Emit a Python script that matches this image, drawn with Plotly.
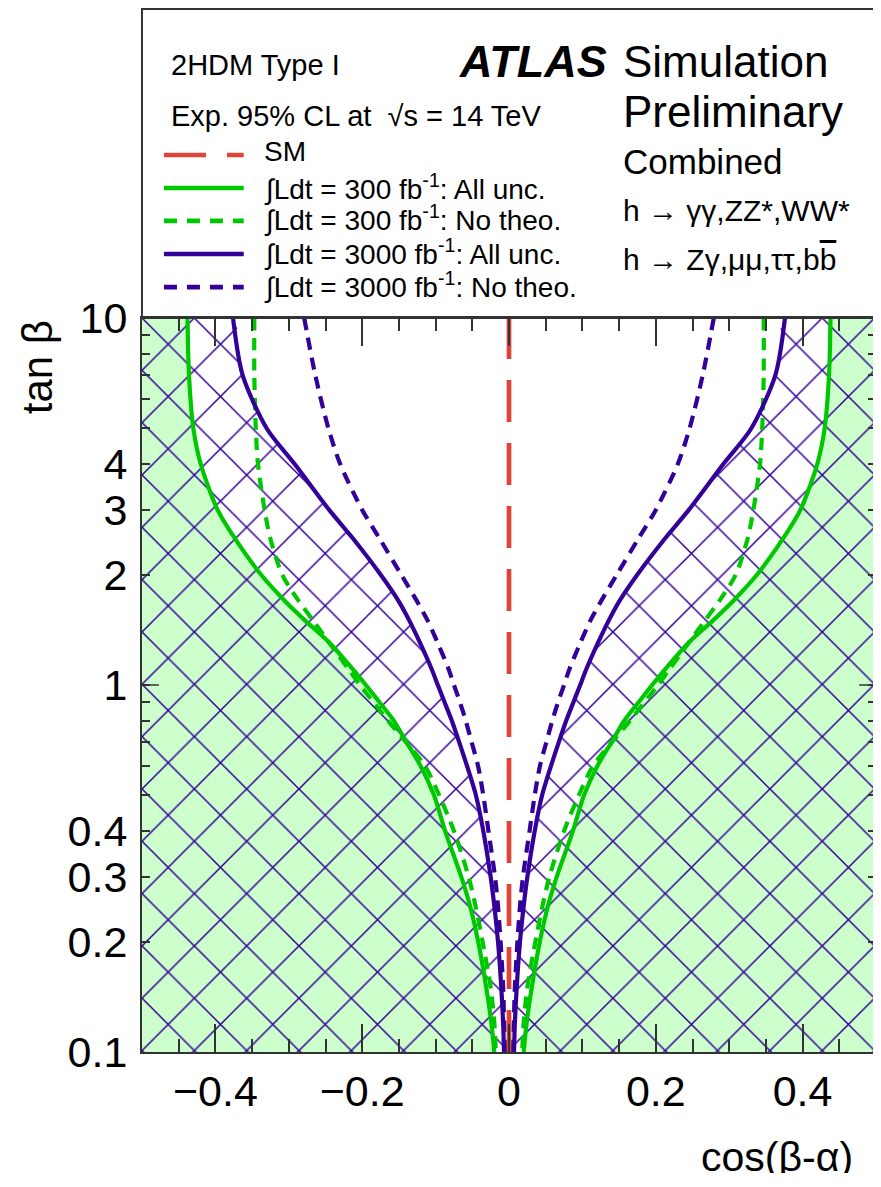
import plotly.graph_objects as go

# ---------------- data ----------------
tan_beta = [10, 7, 5, 4, 3, 2.5, 2, 1.7, 1.5, 1.3, 1.1, 1.0, 0.9, 0.8, 0.7,
            0.6, 0.5, 0.4, 0.3, 0.25, 0.2, 0.15, 0.12, 0.1]
# |cos(beta-alpha)| of each expected 95% CL contour (mirrored to both signs)
cba_300_all = [0.438, 0.436, 0.430, 0.420, 0.397, 0.373, 0.338, 0.306, 0.278,
               0.244, 0.212, 0.195, 0.177, 0.157, 0.140, 0.120, 0.102, 0.087,
               0.065, 0.053, 0.042, 0.031, 0.024, 0.020]
cba_300_notheo = [0.347, 0.347, 0.345, 0.342, 0.333, 0.325, 0.309, 0.287, 0.267,
                  0.2445, 0.218, 0.203, 0.185, 0.165, 0.1405, 0.114, 0.095, 0.075,
                  0.055, 0.0456, 0.036, 0.025, 0.020, 0.018]
cba_3000_all = [0.376, 0.363, 0.330, 0.292, 0.245, 0.212, 0.175, 0.151, 0.136,
                0.121, 0.105, 0.097, 0.088, 0.078, 0.068, 0.057, 0.045, 0.035,
                0.025, 0.020, 0.015, 0.0105, 0.008, 0.0068]
cba_3000_notheo = [0.279, 0.264, 0.246, 0.230, 0.200, 0.176, 0.147, 0.126, 0.111,
                   0.097, 0.082, 0.075, 0.067, 0.059, 0.051, 0.042, 0.035, 0.028,
                   0.019, 0.015, 0.0115, 0.008, 0.0066, 0.0054]
sm_x = [0, 0]
sm_y = [0.1, 10]

x_range = [-0.5, 0.5]
y_range = [0.1, 10]
x_tickvals = [-0.4, -0.2, 0, 0.2, 0.4]
x_ticktext = ["\u22120.4", "\u22120.2", "0", "0.2", "0.4"]
y_tickvals = [0.1, 0.2, 0.3, 0.4, 1, 2, 3, 4, 10]
y_ticktext = ["0.1", "0.2", "0.3", "0.4", "1", "2", "3", "4", "10"]
y_minorvals = [0.5, 0.6, 0.7, 0.8, 0.9, 5, 6, 7, 8, 9]

legend_labels = [
    "SM",
    "\u222bLdt = 300 fb<sup>-1</sup>: All unc.",
    "\u222bLdt = 300 fb<sup>-1</sup>: No theo.",
    "\u222bLdt = 3000 fb<sup>-1</sup>: All unc.",
    "\u222bLdt = 3000 fb<sup>-1</sup>: No theo.",
]

# ---------------- styles ----------------
GREEN = "#00c800"
PURPLE = "#330099"
RED = "#de4438"
LIGHTGREEN = "#ccffcc"
FRAME = "#333333"
FONT = "Liberation Sans, Arial, sans-serif"
LW = 4.2

fig = go.Figure()


def neg(vals):
    return [-v for v in vals]


# green filled excluded region (outside 300 fb-1 all-unc contour)
for side in (-1, 1):
    xs = [side * x_range[1]] + [side * v for v in cba_300_all] + [side * x_range[1]]
    ys = [y_range[1]] + tan_beta + [y_range[0]]
    fig.add_trace(go.Scatter(x=xs, y=ys, mode="lines", fill="toself",
                             fillcolor=LIGHTGREEN, line=dict(width=0, color="rgba(0,0,0,0)", shape="spline", smoothing=0.6),
                             hoverinfo="skip", showlegend=False))

# hatched excluded region (outside 3000 fb-1 all-unc contour)
for side in (-1, 1):
    xs = [side * x_range[1]] + [side * v for v in cba_3000_all] + [side * x_range[1]]
    ys = [y_range[1]] + tan_beta + [y_range[0]]
    fig.add_trace(go.Scatter(x=xs, y=ys, mode="lines", fill="toself",
                             fillcolor="rgba(0,0,0,0)",
                             fillpattern=dict(shape="x", size=37, solidity=0.08,
                                              fgcolor=PURPLE, bgcolor="rgba(0,0,0,0)",
                                              fillmode="replace"),
                             line=dict(width=0, color="rgba(0,0,0,0)", shape="spline", smoothing=0.6),
                             hoverinfo="skip", showlegend=False))

curves = [
    (cba_300_all, GREEN, "solid"),
    (cba_300_notheo, GREEN, "12px,8px"),
    (cba_3000_all, PURPLE, "solid"),
    (cba_3000_notheo, PURPLE, "12px,8px"),
]
for vals, col, dash in curves:
    for xs in (neg(vals), vals):
        fig.add_trace(go.Scatter(x=xs, y=tan_beta, mode="lines",
                                 line=dict(color=col, width=LW, dash=dash, shape="spline", smoothing=0.8),
                                 hoverinfo="skip", showlegend=False))

# SM line
fig.add_trace(go.Scatter(x=sm_x, y=sm_y, mode="lines",
                         line=dict(color=RED, width=LW + 0.5, dash="42px,21px"),
                         hoverinfo="skip", showlegend=False))

axis_common = dict(showgrid=False, zeroline=False, showline=True, linecolor=FRAME,
                   linewidth=2, mirror="ticks", ticks="inside", tickcolor=FRAME,
                   tickwidth=1.5, tickfont=dict(family=FONT, size=43, color="black"))

fig.update_xaxes(range=x_range, tickmode="array", tickvals=x_tickvals, ticktext=x_ticktext,
                 ticklen=28, ticklabelstandoff=0,
                 minor=dict(tickvals=[round(-0.5 + 0.05 * i, 2) for i in range(21)],
                            ticks="inside", ticklen=13, tickcolor=FRAME, tickwidth=1.5),
                 **axis_common)
fig.update_yaxes(type="log", range=[-1, 1], tickmode="array", tickvals=y_tickvals,
                 ticktext=y_ticktext, ticklen=8, ticklabelstandoff=4,
                 minor=dict(tickvals=y_minorvals, ticks="inside", ticklen=8,
                            tickcolor=FRAME, tickwidth=1.5),
                 **axis_common)

shapes = []
# longer decade tick at tan(beta)=1 on left and right frame
for x0, x1 in ((0, 0.023), (1, 0.977)):
    shapes.append(dict(type="line", xref="x domain", yref="y", x0=x0, x1=x1, y0=1, y1=1,
                       line=dict(color=FRAME, width=1.5)))
# legend / label box above the plot
shapes.append(dict(type="rect", xref="paper", yref="paper", x0=0, x1=1, y0=1, y1=1.421,
                   line=dict(color=FRAME, width=2), fillcolor="rgba(0,0,0,0)"))

legend_rows = [1.2221, 1.1771, 1.1322, 1.0872, 1.0422]
legend_text_rows = [1.2262, 1.1785, 1.1362, 1.0899, 1.0450]
legend_styles = [(RED, "42px,21px"), (GREEN, "solid"), (GREEN, "13px,10px"),
                 (PURPLE, "solid"), (PURPLE, "13px,10px")]
annotations = []
for yl, yt, (col, dash), lab in zip(legend_rows, legend_text_rows, legend_styles, legend_labels):
    shapes.append(dict(type="line", xref="paper", yref="paper", x0=0.0299, x1=0.1386,
                       y0=yl, y1=yl, line=dict(color=col, width=LW + 0.5, dash=dash)))
    annotations.append(dict(text=lab, xref="paper", yref="paper", x=0.163, y=yt,
                            xanchor="left", yanchor="middle", showarrow=False,
                            font=dict(family=FONT, size=28, color="black")))

text_items = [
    ("2HDM Type I", 0.0367, 1.3447, 29, "left"),
    ("Exp. 95% CL at  \u221as = 14 TeV", 0.0367, 1.2752, 29, "left"),
    ("<b><i>ATLAS</i></b>", 0.4293, 1.3500, 45, "left"),
    ("Simulation", 0.6522, 1.3500, 44, "left"),
    ("Preliminary", 0.6522, 1.2820, 44, "left"),
    ("Combined", 0.6522, 1.2130, 35, "left"),
    ("h \u2192 \u03b3\u03b3,ZZ*,WW*", 0.6522, 1.1470, 30, "left"),
    ("h \u2192 Z\u03b3,\u03bc\u03bc,\u03c4\u03c4,b<span style='text-decoration:overline'>b</span>",
     0.6522, 1.0800, 30, "left"),
]
for txt, x, y, size, anchor in text_items:
    annotations.append(dict(text=txt, xref="paper", yref="paper", x=x, y=y,
                            xanchor=anchor, yanchor="middle", showarrow=False,
                            font=dict(family=FONT, size=size, color="black")))

annotations.append(dict(text="tan \u03b2", xref="paper", yref="paper", x=-0.1427, y=1.0,
                        xanchor="center", yanchor="top", textangle=-90, showarrow=False,
                        font=dict(family=FONT, size=42, color="black")))
# kept inside the visible right edge so the whole title stays visible
annotations.append(dict(text="cos(\u03b2-\u03b1)", xref="paper", yref="paper", x=0.972, y=-0.143,
                        xanchor="right", yanchor="middle", showarrow=False,
                        font=dict(family=FONT, size=41, color="black")))

# the page body has an 8px margin; keep the figure inside the window so no scrollbars appear
fig.update_layout(width=871, height=1165, margin=dict(l=134, r=1, t=310, b=121),
                  paper_bgcolor="white", plot_bgcolor="white", showlegend=False,
                  shapes=shapes, annotations=annotations, font=dict(family=FONT))

fig.write_html("out.html")
